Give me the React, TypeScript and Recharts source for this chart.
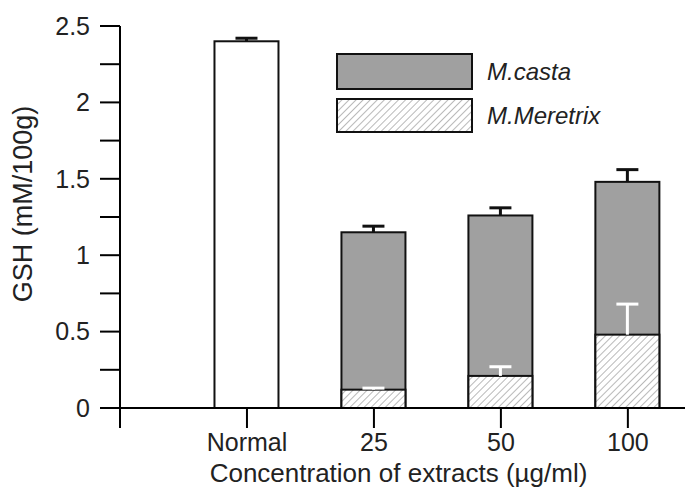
import React from "react"
import { BarChart, Bar, XAxis, YAxis } from "recharts"

// categories along x (index 0 sits on the y axis and stays blank)
const categories = ["", "Normal", "25", "50", "100"]
const normalValues = [null, 2.4, null, null, null]
const normalErr = [null, 0.02, null, null, null]
const castaValues = [null, null, 1.15, 1.26, 1.48]
const castaErr = [null, null, 0.04, 0.05, 0.08]
const meretrixValues = [null, null, 0.12, 0.21, 0.48]
const meretrixErr = [null, null, 0.01, 0.06, 0.2]
const yTicks = [0, 0.25, 0.5, 0.75, 1, 1.25, 1.5, 1.75, 2, 2.25, 2.5]
const xTicks = [0, 1, 2, 3, 4]
const seriesNames = ["M.casta", "M.Meretrix"]

const data = categories.map((name, i) => ({
  x: i,
  name,
  normal: normalValues[i],
  normalErr: normalErr[i],
  casta: castaValues[i],
  castaErr: castaErr[i],
  meretrix: meretrixValues[i],
  meretrixErr: meretrixErr[i],
}))

const FONT = "'Liberation Sans', Arial, sans-serif"
const TEXT = "#222"
const GRAY = "#a0a0a0"

const Hatch = ({ id }: { id: string }) => (
  <pattern id={id} patternUnits="userSpaceOnUse" width={5} height={5} patternTransform="rotate(45)">
    <rect width={5} height={5} fill="#fff" />
    <line x1={0} y1={0} x2={0} y2={5} stroke="#8a8a8a" strokeWidth={1.2} />
  </pattern>
)

// bar rectangle plus a one-sided (upward) error bar scaled from the bar's own height
const barWithError = (key: string, errKey: string, color: string) => (props: any) => {
  const { x, y, width, height, payload, fill, stroke, strokeWidth } = props
  const value = payload?.[key]
  const err = payload?.[errKey]
  if (value == null || !height) return <g />
  const len = err ? (err / value) * height : 0
  const cx = x + width / 2
  return (
    <g>
      <rect x={x} y={y} width={width} height={height} fill={fill} stroke={stroke} strokeWidth={strokeWidth} />
      {len > 0 && (
        <g>
          <line x1={cx} y1={y} x2={cx} y2={y - len} stroke={color} strokeWidth={3} />
          <line x1={cx - 11} y1={y - len} x2={cx + 11} y2={y - len} stroke={color} strokeWidth={3} />
        </g>
      )}
    </g>
  )
}

const LegendBox = () => (
  <div style={{ position: "absolute", left: 336, top: 53, fontFamily: FONT, color: TEXT }}>
    {seriesNames.map((name, i) => (
      <div key={name} style={{ display: "flex", alignItems: "center", marginBottom: 8 }}>
        <svg width={137} height={i === 0 ? 37 : 35} style={{ display: "block" }}>
          <defs>
            <Hatch id="legendHatch" />
          </defs>
          <rect
            x={1}
            y={1}
            width={135}
            height={i === 0 ? 35 : 33}
            fill={i === 0 ? GRAY : "url(#legendHatch)"}
            stroke="#111"
            strokeWidth={2}
          />
        </svg>
        <span style={{ fontStyle: "italic", fontSize: 24, marginLeft: 14 }}>{name}</span>
      </div>
    ))}
  </div>
)

const YLabel = ({ viewBox }: any) => {
  const cx = 23
  const cy = viewBox.y + viewBox.height / 2 - 13
  return (
    <text
      x={cx}
      y={cy}
      transform={`rotate(-90, ${cx}, ${cy})`}
      textAnchor="middle"
      dominantBaseline="central"
      fontSize={27}
      fill={TEXT}
      fontFamily={FONT}
    >
      GSH (mM/100g)
    </text>
  )
}

export default function App() {
  const axisStyle = { stroke: "#000", strokeWidth: 2 }
  return (
    <div style={{ position: "fixed", left: 0, top: 0, width: 685, height: 494, background: "#fff" }}>
      <BarChart
        width={685}
        height={494}
        data={data}
        margin={{ top: 26, right: 0, left: 0, bottom: 0 }}
        barSize={64}
        barGap={-64}
        style={{ fontFamily: FONT }}
      >
        <defs>
          <Hatch id="hatch" />
        </defs>
        <XAxis
          type="number"
          dataKey="x"
          domain={[0, 4.45]}
          ticks={xTicks}
          allowDataOverflow
          tickFormatter={(v) => categories[v] ?? ""}
          height={86}
          tickSize={20}
          tickMargin={5}
          axisLine={axisStyle}
          tickLine={axisStyle}
          tick={{ fill: TEXT, fontSize: 25 }}
          label={{
            value: "Concentration of extracts (µg/ml)",
            position: "insideBottom",
            offset: 12,
            dx: -4,
            fill: TEXT,
            fontSize: 26,
          }}
        />
        <YAxis
          domain={[0, 2.5]}
          ticks={yTicks}
          width={120}
          tickSize={20}
          tickMargin={10}
          interval={0}
          tickFormatter={(v) => ((v * 2) % 1 === 0 ? String(v) : "")}
          axisLine={axisStyle}
          tickLine={axisStyle}
          tick={{ fill: TEXT, fontSize: 25 }}
          label={<YLabel />}
        />
        <Bar
          dataKey="normal"
          fill="#fff"
          stroke="#111"
          strokeWidth={2}
          isAnimationActive={false}
          shape={barWithError("normal", "normalErr", "#111")}
        />
        <Bar
          dataKey="casta"
          name={seriesNames[0]}
          fill={GRAY}
          stroke="#111"
          strokeWidth={2}
          isAnimationActive={false}
          shape={barWithError("casta", "castaErr", "#111")}
        />
        <Bar
          dataKey="meretrix"
          name={seriesNames[1]}
          fill="url(#hatch)"
          stroke="#111"
          strokeWidth={2}
          isAnimationActive={false}
          shape={barWithError("meretrix", "meretrixErr", "#fff")}
        />
      </BarChart>
      <LegendBox />
    </div>
  )
}
